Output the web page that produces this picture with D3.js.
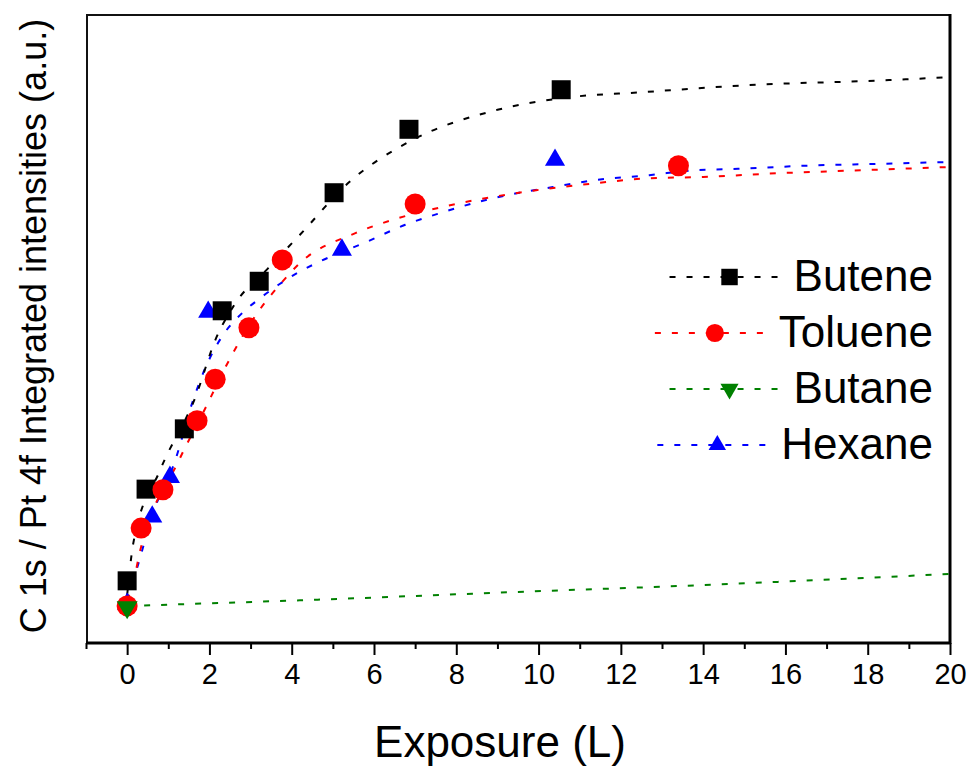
<!DOCTYPE html>
<html><head><meta charset="utf-8">
<script src="https://cdn.jsdelivr.net/npm/d3@7"></script>
<style>
body{margin:0;background:#fff}
svg{display:block}
text{font-family:Arial,"Liberation Sans",sans-serif;fill:#000}
</style>
</head><body>
<svg id="chart" width="976" height="770"></svg>
<script>
// ---------- data ----------
const seriesNames = ["Butene", "Toluene", "Butane", "Hexane"];
const xTickLabels = [0, 2, 4, 6, 8, 10, 12, 14, 16, 18, 20];
const xMinorTicks = [-1, 1, 3, 5, 7, 9, 11, 13, 15, 17, 19];

// measured points (exposure in L, intensity in a.u.)
const buteneExposure  = [0, 0.46, 1.39, 2.31, 3.21, 5.03, 6.85, 10.55];
const buteneIntensity = [9.9, 24.5, 34.1, 52.9, 57.6, 71.7, 81.8, 88.1];
const tolueneExposure  = [0, 0.34, 0.87, 1.70, 2.14, 2.96, 3.77, 7.0, 13.4];
const tolueneIntensity = [5.9, 18.3, 24.4, 35.4, 42.0, 50.2, 61.0, 69.9, 76.0];
const butaneExposure  = [0];
const butaneIntensity = [5.7];
const hexaneExposure  = [0, 0.61, 1.04, 1.97, 5.22, 10.4];
const hexaneIntensity = [6.2, 20.1, 26.4, 52.7, 62.6, 76.9];

// fitted curves (dashed)
const buteneFitExposure  = [0, 0.15, 0.8, 1.68, 2.14, 2.6, 3.43, 4.2, 5.4, 6.85, 9.0, 10.75, 12.5, 15.3, 18.0, 20];
const buteneFitIntensity = [7.6, 15.9, 27.5, 39.5, 48.2, 53.8, 59.7, 65.0, 73.4, 79.8, 84.9, 86.9, 87.7, 88.9, 89.5, 90.1];
const tolueneFitExposure  = [0, 0.12, 0.32, 1.26, 1.94, 2.38, 3.16, 3.77, 4.2, 5.56, 6.46, 7.78, 9.94, 11.37, 12.7, 14.0, 15.8, 17.5, 20];
const tolueneFitIntensity = [6.8, 8.9, 14.8, 29.1, 37.9, 43.8, 52.5, 57.5, 60.5, 65.3, 67.4, 69.6, 72.1, 73.2, 74.0, 74.2, 74.8, 75.2, 75.8];
const butaneFitExposure  = [0, 4.2, 9.38, 13.9, 20];
const butaneFitIntensity = [5.9, 6.8, 8.1, 9.2, 11.0];
const hexaneFitExposure  = [0, 0.24, 0.63, 1.17, 1.58, 1.90, 2.14, 2.38, 2.79, 3.23, 3.67, 4.13, 4.57, 5.83, 6.76, 7.68, 8.51, 9.53, 10.35, 11.37, 12.69, 13.83, 14.85, 16.48, 18.32, 20];
const hexaneFitIntensity = [6.8, 11.9, 20.7, 29.1, 38.2, 43.8, 47.0, 49.5, 52.5, 54.9, 57.0, 58.9, 60.4, 63.9, 66.6, 68.6, 70.2, 71.7, 72.6, 73.7, 74.5, 75.3, 75.5, 76.0, 76.3, 76.6];

// ---------- styles ----------
const styles = {
  Butene:  {color: "#000000", symbol: d3.symbolSquare,   size: 361, rotate: 0},
  Toluene: {color: "#ff0000", symbol: d3.symbolCircle,   size: 346, rotate: 0},
  Butane:  {color: "#008000", symbol: d3.symbolTriangle, size: 190, rotate: 180},
  Hexane:  {color: "#0000ff", symbol: d3.symbolTriangle, size: 175, rotate: 0}
};

const series = {
  Butene:  {px: buteneExposure,  py: buteneIntensity,  fx: buteneFitExposure,  fy: buteneFitIntensity},
  Toluene: {px: tolueneExposure, py: tolueneIntensity, fx: tolueneFitExposure, fy: tolueneFitIntensity},
  Butane:  {px: butaneExposure,  py: butaneIntensity,  fx: butaneFitExposure,  fy: butaneFitIntensity},
  Hexane:  {px: hexaneExposure,  py: hexaneIntensity,  fx: hexaneFitExposure,  fy: hexaneFitIntensity}
};

// ---------- layout ----------
const L = 87, R = 950, T = 15, B = 643;
const svg = d3.select("#chart");
const x = d3.scaleLinear().domain([-1, 20]).range([L - 1, R]);
const y = d3.scaleLinear().domain([0, 100]).range([B, T]);

// axes ticks
const gMajor = svg.append("g").attr("transform", `translate(0,${B})`)
  .call(d3.axisBottom(x).tickValues(xTickLabels).tickSize(12).tickPadding(8).tickFormat(d3.format("d")));
gMajor.select(".domain").remove();
gMajor.selectAll(".tick line").attr("stroke", "#000").attr("stroke-width", 2);
gMajor.selectAll(".tick text").attr("font-size", 29).attr("fill", "#111")
  .attr("font-family", "Arial, 'Liberation Sans', sans-serif");

const gMinor = svg.append("g").attr("transform", `translate(0,${B})`)
  .call(d3.axisBottom(x).tickValues(xMinorTicks).tickSize(6).tickFormat(""));
gMinor.select(".domain").remove();
gMinor.selectAll(".tick line").attr("stroke", "#000").attr("stroke-width", 2);

// frame
svg.append("rect").attr("x", L).attr("y", T).attr("width", R - L).attr("height", B - T)
  .attr("fill", "none").attr("stroke", "#111").attr("stroke-width", 2);
svg.append("line").attr("x1", R).attr("x2", R).attr("y1", T - 1).attr("y2", B + 1)
  .attr("stroke", "#000").attr("stroke-width", 3);
svg.append("line").attr("x1", L - 1).attr("x2", R + 1).attr("y1", B).attr("y2", B)
  .attr("stroke", "#000").attr("stroke-width", 3);

// fit lines
const line = d3.line().x(d => x(d[0])).y(d => y(d[1])).curve(d3.curveMonotoneX);
const plot = svg.append("g");
["Hexane", "Butene", "Toluene", "Butane"].forEach(name => {
  const s = series[name];
  plot.append("path")
    .datum(s.fx.map((v, i) => [v, s.fy[i]]))
    .attr("d", line)
    .attr("fill", "none")
    .attr("stroke", styles[name].color)
    .attr("stroke-width", 2)
    .attr("stroke-dasharray", "6,11");
});

// markers
["Hexane", "Butene", "Toluene", "Butane"].forEach(name => {
  const s = series[name], st = styles[name];
  const sym = d3.symbol().type(st.symbol).size(st.size);
  plot.selectAll(null)
    .data(s.px.map((v, i) => [v, s.py[i]]))
    .enter().append("path")
    .attr("d", sym)
    .attr("transform", d => `translate(${x(d[0])},${y(d[1])}) rotate(${st.rotate})`)
    .attr("fill", st.color);
});

// axis titles
svg.append("text").attr("x", 500).attr("y", 757).attr("text-anchor", "middle")
  .attr("font-size", 44).text("Exposure (L)");
svg.append("text").attr("transform", "translate(46,326) rotate(-90)").attr("text-anchor", "middle")
  .attr("font-size", 36).text("C 1s / Pt 4f Integrated intensities (a.u.)");

// legend
const legendRight = 933, legendBaseline0 = 291, legendStep = 56;
const lg = svg.append("g");
seriesNames.forEach((name, i) => {
  const st = styles[name];
  const by = legendBaseline0 + i * legendStep;
  const t = lg.append("text").attr("x", legendRight).attr("y", by)
    .attr("text-anchor", "end").attr("font-size", 44).text(name);
  const w = t.node().getComputedTextLength();
  const x2 = legendRight - w - 10, x1 = x2 - 114, cy = by - 14;
  lg.append("line").attr("x1", x1).attr("x2", x2).attr("y1", cy).attr("y2", cy)
    .attr("stroke", st.color).attr("stroke-width", 2).attr("stroke-dasharray", "6,11");
  lg.append("path").attr("d", d3.symbol().type(st.symbol).size(st.size * 0.75))
    .attr("transform", `translate(${(x1 + x2) / 2 + 3},${cy}) rotate(${st.rotate})`)
    .attr("fill", st.color);
});
</script>
</body></html>
